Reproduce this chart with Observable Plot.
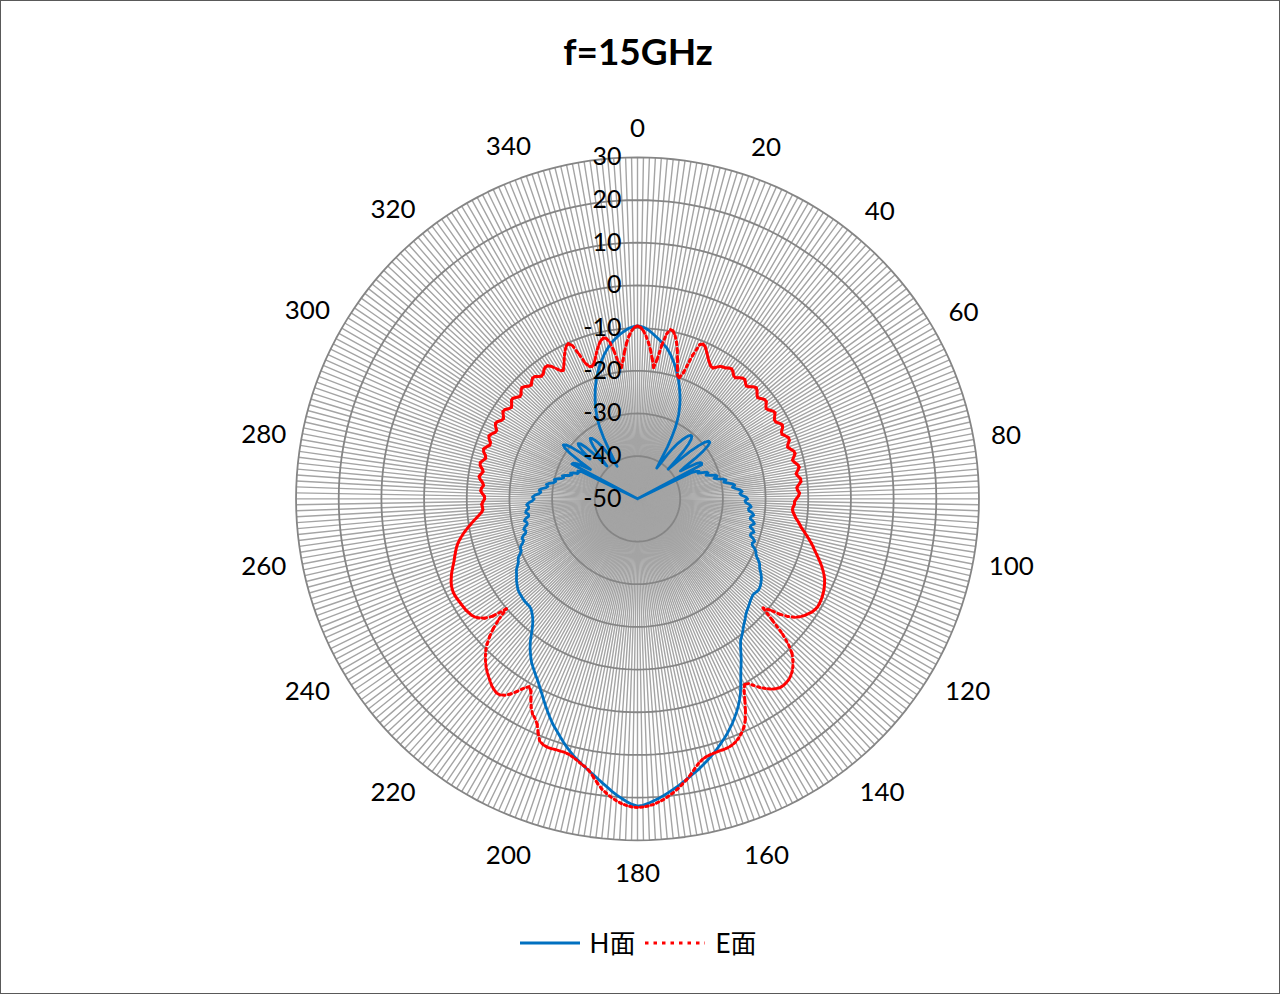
<!DOCTYPE html>
<html><head><meta charset="utf-8">
<script src="https://cdn.jsdelivr.net/npm/d3@7"></script>
<script src="https://cdn.jsdelivr.net/npm/@observablehq/plot@0.6"></script>
<style>
html,body{margin:0;padding:0;background:#fff;}
#frame{position:relative;width:1280px;height:994px;box-sizing:border-box;border:1px solid #595959;overflow:hidden;font-family:Lato,"Noto Sans CJK SC",sans-serif;}
#title{position:absolute;top:26px;left:0;width:1274px;text-align:center;font-weight:bold;font-size:37px;line-height:48px;color:#000;z-index:2;}
#chart{position:absolute;left:0;top:78px;z-index:1;}
#legend{position:absolute;top:926px;left:0;width:1274px;display:flex;justify-content:center;align-items:center;font-size:26px;line-height:32px;color:#000;z-index:2;}
#legend svg{margin:0 10px 0 0;}
#legend .item{display:flex;align-items:center;margin:0 5px;}
</style></head>
<body><div id="frame"><div id="title">f=15GHz</div><div id="chart"></div><div id="legend"></div></div>
<script>
// ---- data ----
const title = "f=15GHz";
const seriesNames = ["H面", "E面"];
const angleTicks = [0,20,40,60,80,100,120,140,160,180,200,220,240,260,280,300,320,340];
const radialTicks = [-50,-40,-30,-20,-10,0,10,20,30];
const rMin = -50, rMax = 30;

// H-plane (blue), angles 0..180
const hRight = [
-9.5,-9.6,-9.8,-10.1,-10.5,-11.0,-11.5,-12.0,-12.5,-13.0,
-13.5,-14.0,-14.7,-15.4,-16.2,-17.0,-17.8,-18.7,-19.6,-20.5,
-21.5,-22.5,-23.5,-24.5,-25.6,-26.8,-28.0,-29.5,-31.2,-33.4,
-36.0,-39.5,-41.5,-40.0,-37.5,-35.5,-34.0,-32.8,-31.8,-31.0,
-30.6,-30.6,-31.2,-32.5,-34.5,-37.5,-40.0,-37.0,-33.5,-31.0,
-29.3,-28.5,-28.5,-29.3,-31.0,-33.5,-36.5,-38.0,-36.0,-34.0,
-33.0,-32.8,-33.0,-50,-36.0,-34.8,-34.2,-34.6,-33.6,-32.6,
-32.4,-33.0,-32.2,-31.0,-30.6,-31.4,-30.6,-29.4,-28.8,-29.4,
-28.6,-27.5,-27.0,-27.6,-26.9,-25.9,-25.4,-26.0,-25.6,-24.6,
-24.2,-24.8,-24.6,-23.7,-23.3,-23.9,-23.8,-22.9,-22.5,-23.1,
-23.2,-22.4,-22.0,-22.6,-22.8,-22.0,-21.6,-22.2,-22.2,-21.3,
-20.8,-21.2,-21.0,-20.2,-19.6,-19.4,-18.9,-18.2,-17.6,-17.3,
-16.9,-16.3,-15.8,-15.4,-15.1,-14.8,-14.6,-14.5,-14.6,-14.8,
-14.8,-14.6,-14.4,-14.1,-13.8,-13.5,-13.2,-12.8,-12.3,-11.8,
-11.3,-10.7,-10.1,-9.5,-8.9,-7.9,-6.7,-5.4,-4.2,-3.0,
-1.6,-0.1,1.4,2.7,3.9,5.0,6.0,7.0,7.9,8.8,
9.6,10.4,11.2,12.0,12.7,13.4,14.1,14.8,15.4,16.0,
16.7,17.3,18.0,18.6,19.2,19.8,20.4,20.9,21.4,21.8,
22.0];
// H-plane, angles 181..359
const hLeft = [
21.6,21.0,20.3,19.6,18.8,17.9,17.1,16.3,15.5,14.8,
14.1,13.4,12.7,12.0,11.2,10.4,9.5,8.6,7.7,6.9,
6.0,5.0,4.0,3.0,2.0,1.0,0.1,-0.8,-1.6,-2.3,
-3.0,-3.7,-4.4,-5.3,-6.2,-7.2,-8.3,-9.6,-10.8,-11.8,
-12.6,-13.2,-13.7,-14.1,-14.3,-14.3,-14.3,-14.3,-14.4,-14.5,
-14.6,-14.7,-14.9,-15.2,-15.5,-15.8,-16.2,-16.6,-16.9,-17.3,
-17.9,-18.4,-18.6,-19.0,-19.7,-20.2,-20.2,-20.5,-21.2,-21.6,
-21.4,-21.8,-22.6,-22.8,-22.4,-22.8,-23.5,-23.5,-23.0,-23.4,
-24.2,-24.2,-23.6,-23.8,-24.4,-24.4,-24.0,-24.5,-25.4,-25.8,
-25.4,-25.9,-26.9,-27.3,-26.9,-27.4,-28.4,-28.8,-28.4,-29.0,
-30.0,-30.4,-30.0,-30.6,-31.6,-32.0,-31.6,-32.2,-33.2,-33.6,
-33.2,-33.8,-34.8,-34.9,-34.6,-35.5,-50,-32.6,-32.8,-33.5,
-35.0,-37.0,-34.0,-31.0,-29.2,-28.5,-29.0,-30.5,-33.0,-35.5,
-33.0,-31.5,-31.0,-31.5,-33.0,-36.0,-39.5,-38.0,-35.5,-33.8,
-32.6,-32.0,-32.3,-33.0,-34.0,-35.5,-38.0,-41.0,-39.0,-36.5,
-33.6,-31.3,-29.6,-28.2,-26.9,-25.7,-24.6,-23.5,-22.4,-21.4,
-20.4,-19.5,-18.6,-17.7,-16.9,-16.1,-15.3,-14.6,-13.9,-13.3,
-12.7,-12.2,-11.7,-11.2,-10.8,-10.4,-10.0,-9.8,-9.6];

// E-plane (red), angles 0..180
const eRight = [
-9.5,-9.8,-10.6,-11.8,-13.3,-15.0,-17.0,-19.0,-17.0,-13.5,
-10.8,-9.6,-9.8,-10.8,-12.2,-14.0,-16.0,-18.0,-19.6,-20.0,
-18.5,-14.0,-11.0,-10.6,-11.0,-11.8,-12.6,-13.4,-14.0,-14.5,
-14.6,-14.0,-13.4,-13.2,-13.0,-12.6,-12.4,-12.8,-13.4,-13.5,
-13.0,-12.5,-12.4,-12.9,-13.3,-12.9,-12.2,-11.9,-12.3,-12.9,
-13.2,-12.7,-12.2,-12.2,-12.8,-13.2,-12.8,-12.2,-12.0,-12.5,
-13.0,-12.9,-12.3,-11.9,-12.2,-12.8,-12.9,-12.3,-11.8,-11.9,
-12.5,-12.8,-12.3,-11.7,-11.6,-12.1,-12.6,-12.2,-11.6,-11.4,
-11.9,-12.4,-12.0,-11.5,-11.5,-12.1,-12.6,-12.4,-12.0,-12.3,
-12.8,-13.2,-13.2,-13.5,-13.6,-13.4,-13.0,-12.6,-12.0,-11.5,
-11.0,-10.3,-9.6,-8.9,-8.2,-7.5,-6.9,-6.2,-5.5,-4.8,
-4.1,-3.5,-2.9,-2.4,-2.0,-1.7,-1.4,-1.2,-1.0,-0.9,
-0.8,-0.8,-1.0,-1.3,-1.8,-2.3,-3.0,-3.9,-5.2,-7.0,
-9.5,-11.0,-7.5,-3.5,-0.8,1.2,2.4,3.4,4.2,4.8,
5.2,5.4,5.5,5.4,5.0,4.4,3.6,2.7,1.6,0.5,
0.2,1.5,3.6,5.7,7.6,9.0,10.0,10.8,11.4,11.8,
12.0,12.1,12.1,12.2,12.3,12.5,12.9,13.6,14.6,15.7,
16.7,17.6,18.5,19.3,20.0,20.7,21.2,21.7,22.0,22.2,
22.3];
// E-plane, angles 181..359
const eLeft = [
22.2,21.9,21.5,20.9,20.2,19.4,18.5,17.3,16.0,14.8,
14.0,13.5,12.9,12.4,12.0,11.8,11.8,11.8,11.9,11.9,
11.7,11.2,9.6,7.8,6.8,6.1,4.9,3.2,1.5,0.8,
1.8,3.2,4.5,5.5,6.1,6.2,5.9,5.5,4.9,4.3,
3.7,3.0,2.2,1.3,0.3,-1.0,-2.6,-4.5,-7.0,-9.9,
-6.3,-4.6,-3.6,-2.9,-2.5,-2.3,-2.1,-2.0,-1.9,-1.8,
-1.7,-1.6,-1.6,-1.7,-1.9,-2.2,-2.6,-3.0,-3.5,-4.0,
-4.5,-4.9,-5.3,-5.7,-6.1,-6.6,-7.2,-7.9,-8.6,-9.4,
-10.2,-11.0,-11.8,-12.6,-13.3,-13.7,-13.6,-13.5,-13.8,-14.2,
-14.1,-13.6,-13.2,-13.4,-13.8,-13.5,-12.9,-12.5,-12.9,-13.3,
-12.9,-12.3,-12.2,-12.7,-13.2,-12.9,-12.3,-12.1,-12.6,-13.2,
-13.1,-12.5,-12.2,-12.6,-13.2,-13.3,-12.7,-12.3,-12.6,-13.2,
-13.4,-12.9,-12.4,-12.6,-13.2,-13.5,-13.1,-12.5,-12.5,-13.0,
-13.5,-13.3,-12.7,-12.4,-12.8,-13.3,-13.5,-13.0,-12.5,-12.6,
-13.1,-13.5,-13.3,-12.7,-12.3,-12.4,-13.0,-14.0,-15.0,-15.2,
-14.4,-13.4,-12.3,-11.3,-10.5,-10.2,-11.0,-13.5,-16.0,-17.0,
-17.2,-16.8,-15.9,-14.8,-13.7,-12.7,-11.9,-11.5,-11.7,-12.8,
-15.0,-17.6,-19.0,-17.4,-15.3,-13.4,-11.8,-10.6,-9.8];

const hPlane = hRight.concat(hLeft);
const ePlane = eRight.concat(eLeft);
const angles = d3.range(hPlane.length); // one category per degree

// ---- layout ----
const W = 1280, H = 840, mTop = 78, mBottom = 78, mRight = 6;
const span = rMax - rMin;                       // degrees of arc used for the radius
const pxPerDeg = (H - mTop - mBottom) / 2 / span;
const labelFont = 26, radialFont = 25;

// polar -> sphere (pole = centre of the plot)
const lon = a => 180 - a;
const lat = v => 90 - (Math.max(v, rMin) - rMin);

const hPts = angles.concat([0]).map((a, i) => ({a: i === angles.length ? 360 : a, v: hPlane[a]}));
const eSegs = angles.flatMap(a => [
  {seg: a, a: a, v: ePlane[a]},
  {seg: a, a: a + 1, v: ePlane[(a + 1) % angles.length]}
]);
const ringLevels = radialTicks.slice(1);

// angle labels sit just outside the outer ring, pushed out by their text box
const angleLabels = angleTicks.map(a => {
  const t = String(a), rad = a * Math.PI / 180;
  const halfW = t.length * 5.5, halfH = 11;
  const outPx = 20 + Math.abs(Math.sin(rad)) * halfW + Math.abs(Math.cos(rad)) * halfH;
  return {a, t, latitude: 90 - span - outPx / pxPerDeg};
});

const font = "Lato, 'Noto Sans CJK SC', sans-serif";

const chart = Plot.plot({
  width: W, height: H,
  marginTop: mTop, marginBottom: mBottom, marginLeft: 0, marginRight: mRight,
  style: {fontFamily: font, background: "transparent"},
  projection: {
    type: "azimuthal-equidistant",
    rotate: [0, -90],
    clip: false,
    domain: d3.geoCircle().center([0, 90]).radius(span)()
  },
  marks: [
    Plot.link(angles, {x1: a => lon(a), y1: () => 90, x2: a => lon(a), y2: () => 90 - span, stroke: "#a4a4a4", strokeWidth: 1.4}),
    Plot.geo(ringLevels, {geometry: v => d3.geoCircle().center([0, 90]).radius(v - rMin)(), fill: "none", stroke: "#858585", strokeWidth: 1.8}),
    Plot.line(hPts, {x: d => lon(d.a), y: d => lat(d.v), stroke: "#0070C0", strokeWidth: 2.8, curve: "linear"}),
    Plot.line(eSegs, {x: d => lon(d.a), y: d => lat(d.v), z: "seg", stroke: "#FF0000", strokeWidth: 3, strokeDasharray: "2.6,3.6", curve: "linear"}),
    Plot.text(radialTicks, {x: () => 180, y: v => lat(v), text: v => String(v), textAnchor: "end", dx: -16, fontSize: radialFont, fill: "#000", fontFamily: font}),
    Plot.text(angleLabels, {x: d => lon(d.a), y: "latitude", text: "t", dy: 2, fontSize: labelFont, fill: "#000", fontFamily: font})
  ]
});
document.getElementById("chart").appendChild(chart);

// ---- legend ----
const legend = document.getElementById("legend");
const styles = [{stroke: "#0070C0", dash: null}, {stroke: "#FF0000", dash: "3.5,5"}];
seriesNames.forEach((name, i) => {
  const item = document.createElement("div");
  item.className = "item";
  const svg = d3.create("svg").attr("width", 60).attr("height", 10);
  svg.append("line").attr("x1", 0).attr("x2", 60).attr("y1", 5).attr("y2", 5)
    .attr("stroke", styles[i].stroke).attr("stroke-width", 3)
    .attr("stroke-dasharray", styles[i].dash);
  item.appendChild(svg.node());
  const label = document.createElement("span");
  label.textContent = name;
  item.appendChild(label);
  legend.appendChild(item);
});
</script>
</body></html>
